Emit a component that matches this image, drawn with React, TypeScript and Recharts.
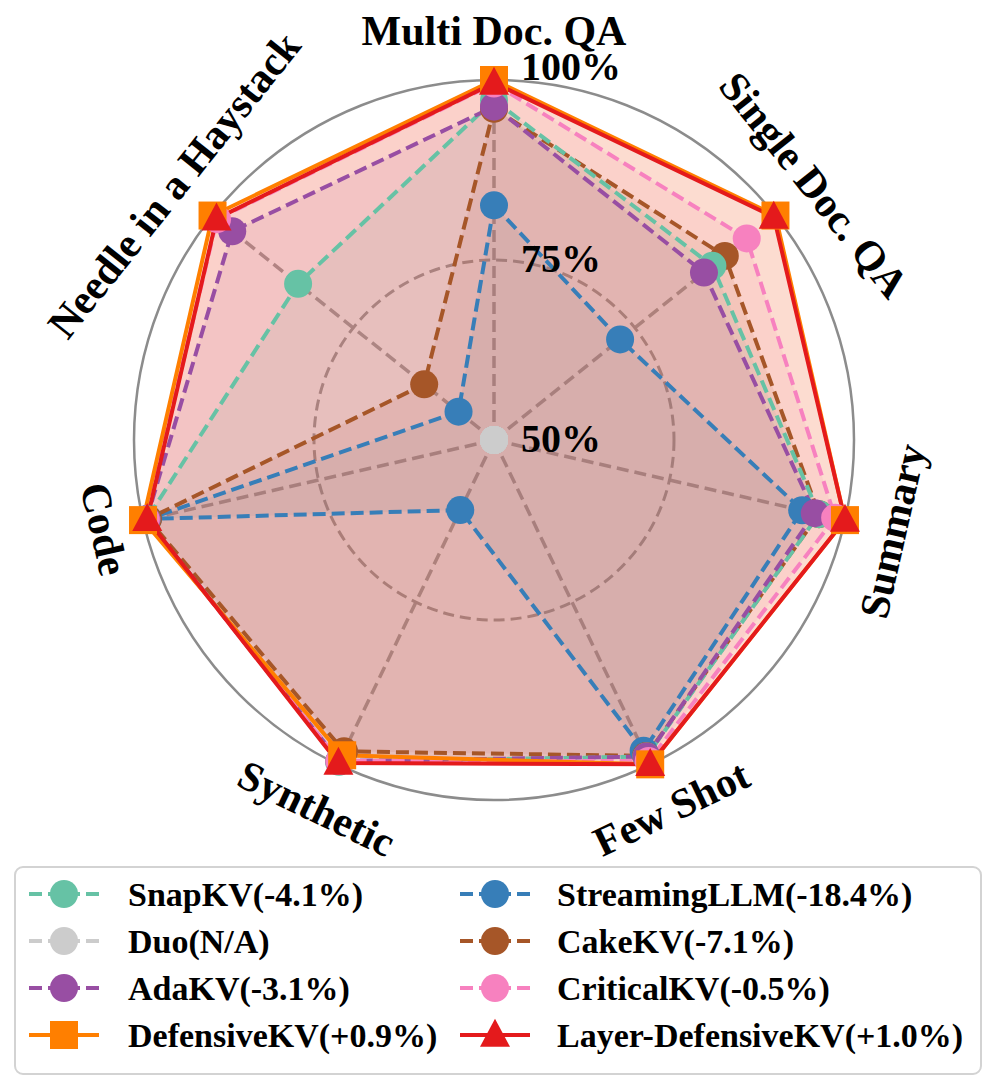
import React from 'react';
import { RadarChart, Radar, PolarGrid, PolarAngleAxis, PolarRadiusAxis } from 'recharts';

// ---------- data ----------
const categories = [
  'Multi Doc. QA',
  'Single Doc. QA',
  'Summary',
  'Few Shot',
  'Synthetic',
  'Code',
  'Needle in a Haystack',
];

const snapKV = [97.2, 88.8, 96.3, 98.8, 99.6, 99.5, 84.8];
const streamingLLM = [82.6, 72.4, 93.9, 97.9, 60.8, 99.3, 56.3];
const duo = [50, 50, 50, 50, 50, 50, 50];
const cakeKV = [96.0, 91.0, 96.3, 98.7, 98.0, 99.3, 62.4];
const adaKV = [96.3, 87.3, 95.7, 98.8, 99.5, 99.5, 96.5];
const criticalKV = [99.5, 94.9, 98.6, 99.5, 99.5, 99.6, 99.2];
const defensiveKV = [100, 100, 100, 100, 98.6, 100, 100];
const layerDefensiveKV = [99.6, 99.7, 100, 100, 99.8, 99.4, 99.3];

const radiusTicks = [50, 75, 100];
const radiusDomain: [number, number] = [50, 100];

// ---------- styles ----------
type Shape = 'circle' | 'square' | 'triangle';
interface SeriesCfg {
  key: string;
  label: string;
  values: number[];
  color: string;
  dashed: boolean;
  shape: Shape;
}

const S_SNAP: SeriesCfg = { key: 'snapKV', label: 'SnapKV(-4.1%)', values: snapKV, color: '#66c2a5', dashed: true, shape: 'circle' };
const S_STREAM: SeriesCfg = { key: 'streamingLLM', label: 'StreamingLLM(-18.4%)', values: streamingLLM, color: '#377eb8', dashed: true, shape: 'circle' };
const S_DUO: SeriesCfg = { key: 'duo', label: 'Duo(N/A)', values: duo, color: '#cccccc', dashed: true, shape: 'circle' };
const S_CAKE: SeriesCfg = { key: 'cakeKV', label: 'CakeKV(-7.1%)', values: cakeKV, color: '#a65628', dashed: true, shape: 'circle' };
const S_ADA: SeriesCfg = { key: 'adaKV', label: 'AdaKV(-3.1%)', values: adaKV, color: '#984ea3', dashed: true, shape: 'circle' };
const S_CRIT: SeriesCfg = { key: 'criticalKV', label: 'CriticalKV(-0.5%)', values: criticalKV, color: '#f781bf', dashed: true, shape: 'circle' };
const S_DEF: SeriesCfg = { key: 'defensiveKV', label: 'DefensiveKV(+0.9%)', values: defensiveKV, color: '#ff7f00', dashed: false, shape: 'square' };
const S_LDEF: SeriesCfg = { key: 'layerDefensiveKV', label: 'Layer-DefensiveKV(+1.0%)', values: layerDefensiveKV, color: '#e41a1c', dashed: false, shape: 'triangle' };

// drawing order
const drawOrder: SeriesCfg[] = [S_STREAM, S_DUO, S_CAKE, S_SNAP, S_ADA, S_CRIT, S_DEF, S_LDEF];
// legend layout (two columns)
const legendCol1: SeriesCfg[] = [S_SNAP, S_DUO, S_ADA, S_DEF];
const legendCol2: SeriesCfg[] = [S_STREAM, S_CAKE, S_CRIT, S_LDEF];

const data = categories.map((c, i) => {
  const row: Record<string, string | number> = { category: c };
  drawOrder.forEach((s) => {
    row[s.key] = s.values[i];
  });
  return row;
});

const W = 996;
const H = 1088;
const LEGEND_TOP = 860;
const CX = 494;
const CY = 440;
const R = 360;
const LABEL_R = 409;
const LABEL_R_OVERRIDE: Record<string, number> = { Code: 400 };
const FONT = '"Liberation Serif", "Times New Roman", Times, serif';
const DASH = '13 6';
const DASH_W = 4;

const radiusPx = (v: number) => (R * (v - radiusDomain[0])) / (radiusDomain[1] - radiusDomain[0]);

function Marker({ shape, cx, cy, color, size = 14 }: { shape: Shape; cx: number; cy: number; color: string; size?: number }) {
  if (shape === 'square') {
    return <rect x={cx - size} y={cy - size} width={size * 2} height={size * 2} fill={color} />;
  }
  if (shape === 'triangle') {
    const h = size * 2;
    return (
      <polygon
        points={`${cx},${cy - h * 0.58} ${cx - size - 1},${cy + h * 0.42} ${cx + size + 1},${cy + h * 0.42}`}
        fill={color}
      />
    );
  }
  return <circle cx={cx} cy={cy} r={size} fill={color} />;
}

const makeDot = (s: SeriesCfg) => (p: any) => {
  if (p == null || p.cx == null || p.cy == null) return <g key={`${s.key}-none`} />;
  return (
    <g key={`${s.key}-${p.index ?? ''}-${p.cx}-${p.cy}`}>
      <Marker shape={s.shape} cx={p.cx} cy={p.cy} color={s.color} />
    </g>
  );
};

const AngleTick = (props: any) => {
  const { payload } = props;
  const angle: number = payload.coordinate;
  const rad = (-angle * Math.PI) / 180;
  const lr = LABEL_R_OVERRIDE[payload.value] ?? LABEL_R;
  const lx = CX + lr * Math.cos(rad);
  const ly = CY + lr * Math.sin(rad);
  let rot = angle - 90;
  while (rot > 180) rot -= 360;
  while (rot <= -180) rot += 360;
  if (rot > 90) rot -= 180;
  if (rot < -90) rot += 180;
  return (
    <text
      x={lx}
      y={ly}
      transform={`rotate(${-rot} ${lx} ${ly})`}
      textAnchor="middle"
      dominantBaseline="central"
      fontFamily={FONT}
      fontWeight="bold"
      fontSize={42}
      fill="#000"
    >
      {payload.value}
    </text>
  );
};

const RadiusTick = (props: any) => {
  const { x, y, payload } = props;
  const dy = payload.value === radiusDomain[1] ? 0 : 12;
  return (
    <text x={x + 27} y={y + dy} textAnchor="start" fontFamily={FONT} fontWeight="bold" fontSize={40} fill="#000">
      {`${payload.value}%`}
    </text>
  );
};

function Legend() {
  const rowY = [34, 81, 128, 175];
  const cols = [
    { items: legendCol1, lineX1: 29, lineX2: 99, mx: 64, tx: 128 },
    { items: legendCol2, lineX1: 460, lineX2: 530, mx: 495, tx: 557 },
  ];
  return (
    <svg width={W} height={H - LEGEND_TOP} style={{ position: 'absolute', left: 0, top: LEGEND_TOP }}>
      <rect x={15} y={7} width={966} height={207} rx={8} ry={8} fill="#fff" stroke="#d3d3d3" strokeWidth={2} />
      {cols.map((col, ci) =>
        col.items.map((s, ri) => (
          <g key={`${ci}-${ri}`}>
            <line
              x1={col.lineX1}
              x2={col.lineX2}
              y1={rowY[ri]}
              y2={rowY[ri]}
              stroke={s.color}
              strokeWidth={DASH_W}
              strokeDasharray={s.dashed ? '13 6' : undefined}
            />
            <Marker shape={s.shape} cx={col.mx} cy={rowY[ri]} color={s.color} />
            <text
              x={col.tx}
              y={rowY[ri]}
              dominantBaseline="central"
              fontFamily={FONT}
              fontWeight="bold"
              fontSize={34}
              fill="#000"
            >
              {s.label}
            </text>
          </g>
        ))
      )}
    </svg>
  );
}

export default function App() {
  return (
    <div style={{ position: 'absolute', left: 0, top: 0, width: W, height: H, background: '#fff' }}>
      <RadarChart
        width={W}
        height={H}
        data={data}
        cx={CX}
        cy={CY}
        outerRadius={R}
        innerRadius={0}
        startAngle={90}
        endAngle={-270}
        margin={{ top: 0, right: 0, bottom: 0, left: 0 }}
      >
        <PolarGrid
          gridType="circle"
          polarRadius={[0]}
          radialLines
          stroke="#9c9c9c"
          strokeWidth={3.5}
          strokeDasharray="12 6"
        />
        <PolarAngleAxis dataKey="category" tick={AngleTick} axisLine={false} tickLine={false} />
        {drawOrder.map((s) => (
          <Radar
            key={`fill-${s.key}`}
            name={`${s.label} fill`}
            dataKey={s.key}
            stroke="none"
            fill={s.color}
            fillOpacity={0.1}
            dot={false}
            legendType="none"
            isAnimationActive={false}
          />
        ))}
        {drawOrder.map((s) => (
          <Radar
            key={`line-${s.key}`}
            name={s.label}
            dataKey={s.key}
            stroke={s.color}
            strokeWidth={DASH_W}
            strokeDasharray={s.dashed ? DASH : undefined}
            fill="none"
            fillOpacity={0}
            dot={makeDot(s)}
            isAnimationActive={false}
          />
        ))}
        <PolarGrid
          gridType="circle"
          polarRadius={[radiusPx(radiusTicks[1])]}
          radialLines={false}
          stroke="#969696"
          strokeWidth={3}
          strokeDasharray="11 6"
          fill="none"
        />
        <PolarGrid
          gridType="circle"
          polarRadius={[radiusPx(radiusTicks[2])]}
          radialLines={false}
          stroke="#8c8c8c"
          strokeWidth={2.5}
          fill="none"
        />
        <PolarRadiusAxis
          angle={90}
          domain={radiusDomain}
          tickCount={radiusTicks.length}
          axisLine={false}
          tickLine={false}
          tick={RadiusTick}
        />
      </RadarChart>
      <Legend />
    </div>
  );
}
